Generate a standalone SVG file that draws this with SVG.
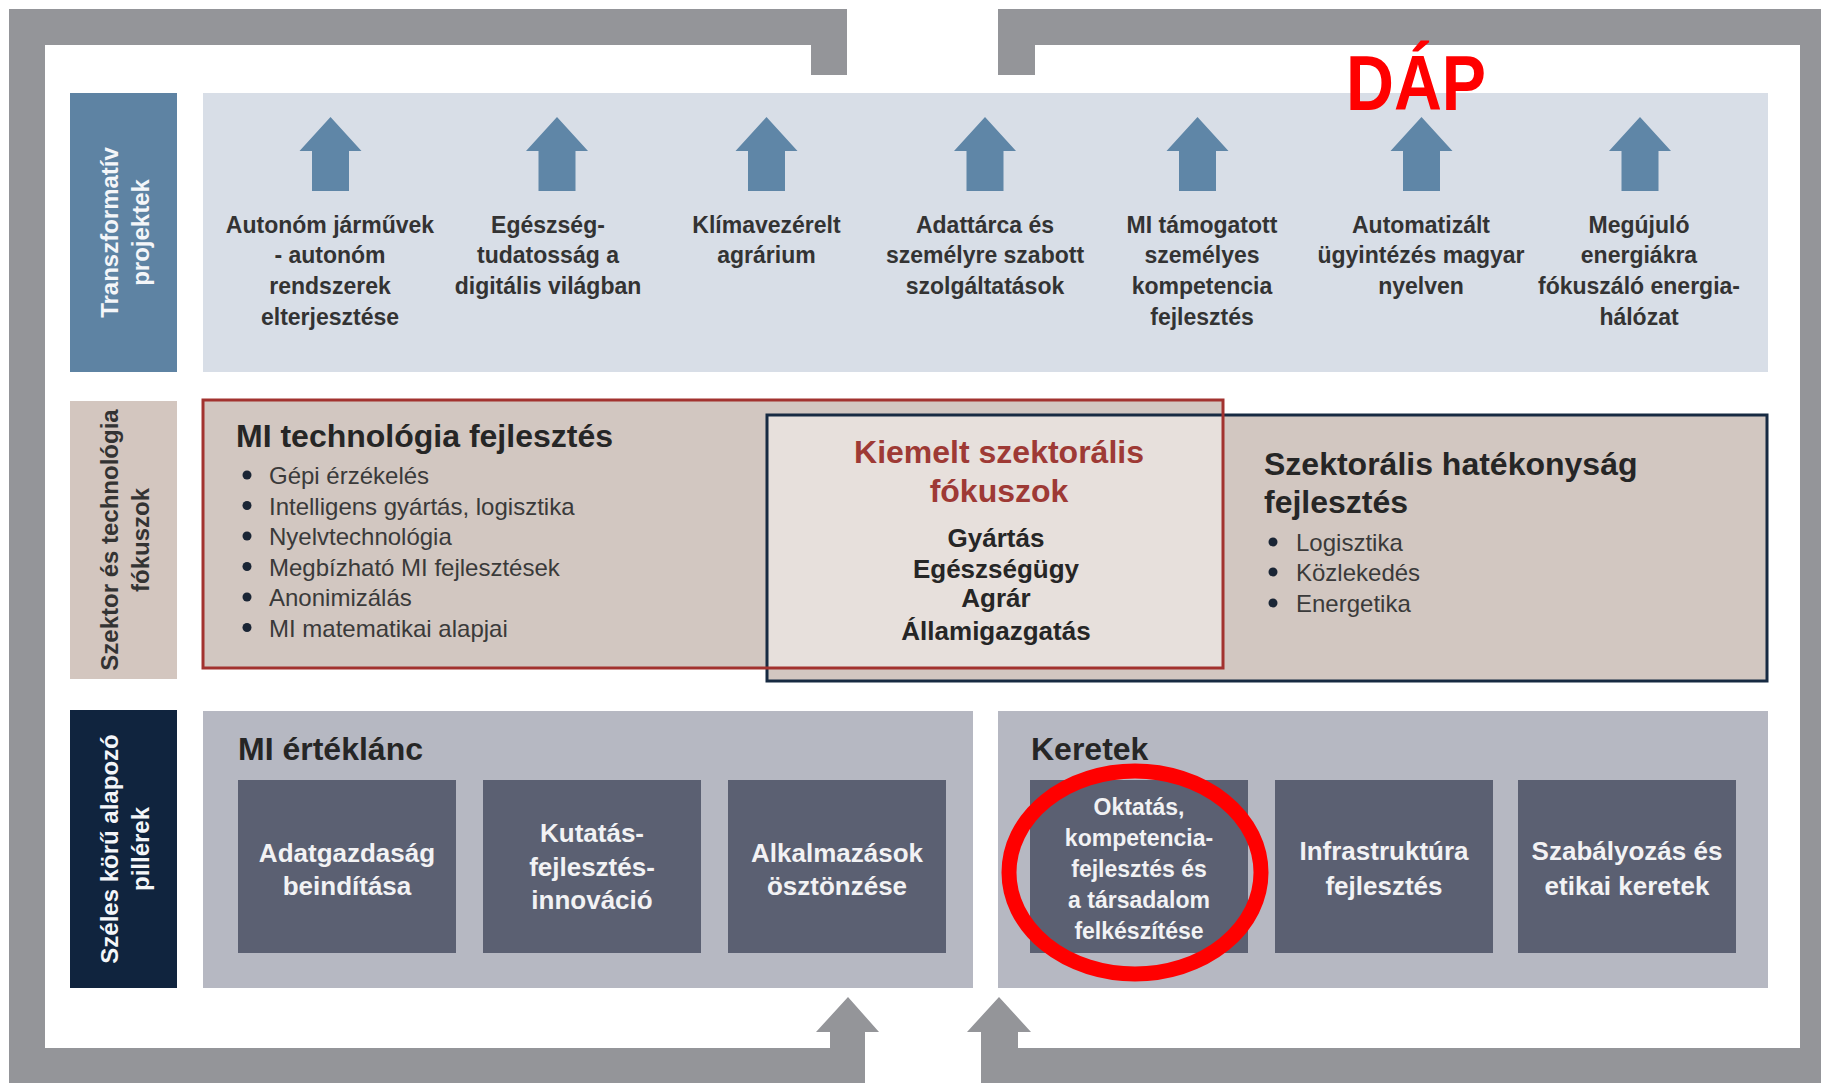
<svg xmlns="http://www.w3.org/2000/svg" width="1821" height="1083" viewBox="0 0 1821 1083">
<style>
text{font-family:"Liberation Sans",Arial,sans-serif}
.proj{font-size:23px;font-weight:bold;fill:#333;text-anchor:middle}
.lab{font-size:24px;font-weight:bold;text-anchor:middle}
.head{font-size:32px;font-weight:bold;fill:#262626}
.bul{font-size:24px;fill:#3a3a3a}
.box{font-size:26px;font-weight:bold;fill:#f2f2f4;text-anchor:middle}
.ctr{font-size:26px;font-weight:bold;fill:#262626;text-anchor:middle}
.dot{fill:#1a2535}
.inner{fill:#5b6072}
</style>
<defs>
<path id="uparrow" d="M0,0 L31,34 L18.5,34 L18.5,74 L-18.5,74 L-18.5,34 L-31,34 Z" fill="#5f86a7"/>
</defs>
<rect width="1821" height="1083" fill="#ffffff"/>

<g id="frame" fill="#949599">
<path d="M9,9 L847,9 L847,75 L811,75 L811,45 L45,45 L45,1048 L830,1048 L830,1032 L816,1032 L848,997 L879,1032 L865,1032 L865,1083 L9,1083 Z"/>
<path d="M998,9 L1821,9 L1821,1083 L981,1083 L981,1032 L967,1032 L999,997 L1031,1032 L1018,1032 L1018,1048 L1800,1048 L1800,45 L1035,45 L1035,75 L998,75 Z"/>
</g>

<g id="label-transzformativ">
<rect x="70" y="93" width="107" height="279" fill="#5e83a3"/>
<text class="lab" fill="#f4f6f9" transform="translate(123.5,232.5) rotate(-90)"><tspan x="0" y="-6">Transzformatív</tspan><tspan x="0" y="25">projektek</tspan></text>
</g>
<g id="label-szektor">
<rect x="70" y="401" width="107" height="278" fill="#d3c6bf"/>
<text class="lab" fill="#333" transform="translate(123.5,540) rotate(-90)"><tspan x="0" y="-6">Szektor és technológia</tspan><tspan x="0" y="25">fókuszok</tspan></text>
</g>
<g id="label-pillerek">
<rect x="70" y="710" width="107" height="278" fill="#10243e"/>
<text class="lab" fill="#f4f6f9" transform="translate(123.5,849) rotate(-90)"><tspan x="0" y="-6">Széles körű alapozó</tspan><tspan x="0" y="25">pillérek</tspan></text>
</g>

<g id="projects-panel">
<rect x="203" y="93" width="1565" height="279" fill="#d8dee7"/>
</g>

<g id="connectors">
<use href="#uparrow" x="330.5" y="117"/>
<use href="#uparrow" x="557" y="117"/>
<use href="#uparrow" x="766.5" y="117"/>
<use href="#uparrow" x="985" y="117"/>
<use href="#uparrow" x="1197.5" y="117"/>
<use href="#uparrow" x="1421.5" y="117"/>
<use href="#uparrow" x="1640" y="117"/>
</g>

<g id="proj-1"><text class="proj"><tspan x="330" y="232.5">Autonóm járművek</tspan><tspan x="330" y="263.3">- autonóm</tspan><tspan x="330" y="294.1">rendszerek</tspan><tspan x="330" y="324.9">elterjesztése</tspan></text></g>
<g id="proj-2"><text class="proj"><tspan x="548" y="232.5">Egészség-</tspan><tspan x="548" y="263.3">tudatosság a</tspan><tspan x="548" y="294.1">digitális világban</tspan></text></g>
<g id="proj-3"><text class="proj"><tspan x="766.5" y="232.5">Klímavezérelt</tspan><tspan x="766.5" y="263.3">agrárium</tspan></text></g>
<g id="proj-4"><text class="proj"><tspan x="985" y="232.5">Adattárca és</tspan><tspan x="985" y="263.3">személyre szabott</tspan><tspan x="985" y="294.1">szolgáltatások</tspan></text></g>
<g id="proj-5"><text class="proj"><tspan x="1202" y="232.5">MI támogatott</tspan><tspan x="1202" y="263.3">személyes</tspan><tspan x="1202" y="294.1">kompetencia</tspan><tspan x="1202" y="324.9">fejlesztés</tspan></text></g>
<g id="proj-6"><text class="proj"><tspan x="1421" y="232.5">Automatizált</tspan><tspan x="1421" y="263.3">ügyintézés magyar</tspan><tspan x="1421" y="294.1">nyelven</tspan></text></g>
<g id="proj-7"><text class="proj"><tspan x="1639" y="232.5">Megújuló</tspan><tspan x="1639" y="263.3">energiákra</tspan><tspan x="1639" y="294.1">fókuszáló energia-</tspan><tspan x="1639" y="324.9">hálózat</tspan></text></g>

<g id="focus-fills">
<rect x="203" y="400" width="1020" height="268" fill="#d2c7c1"/>
<rect x="767" y="415" width="1000" height="266" fill="#d2c7c1"/>
<rect x="767" y="415" width="456" height="253" fill="#e7e0dc"/>
</g>
<g id="szektoralis-hatekonysag">
<rect x="767" y="415" width="1000" height="266" fill="none" stroke="#172a42" stroke-width="3"/>
<text class="head"><tspan x="1264" y="475">Szektorális hatékonyság</tspan><tspan x="1264" y="513.3">fejlesztés</tspan></text>
<circle class="dot" cx="1273" cy="542" r="4.5"/><text class="bul" x="1296" y="551">Logisztika</text>
<circle class="dot" cx="1273" cy="572" r="4.5"/><text class="bul" x="1296" y="581">Közlekedés</text>
<circle class="dot" cx="1273" cy="603" r="4.5"/><text class="bul" x="1296" y="612.3">Energetika</text>
</g>
<g id="mi-technologia">
<rect x="203" y="400" width="1020" height="268" fill="none" stroke="#a2322f" stroke-width="3"/>
<text class="head" x="236" y="446.5">MI technológia fejlesztés</text>
<circle class="dot" cx="247" cy="475" r="4.5"/><text class="bul" x="269" y="484.3">Gépi érzékelés</text>
<circle class="dot" cx="247" cy="505.5" r="4.5"/><text class="bul" x="269" y="514.8">Intelligens gyártás, logisztika</text>
<circle class="dot" cx="247" cy="536" r="4.5"/><text class="bul" x="269" y="545.3">Nyelvtechnológia</text>
<circle class="dot" cx="247" cy="566.5" r="4.5"/><text class="bul" x="269" y="575.8">Megbízható MI fejlesztések</text>
<circle class="dot" cx="247" cy="597" r="4.5"/><text class="bul" x="269" y="606.3">Anonimizálás</text>
<circle class="dot" cx="247" cy="627.5" r="4.5"/><text class="bul" x="269" y="636.8">MI matematikai alapjai</text>
</g>
<g id="kiemelt-szektoralis">
<text class="head" text-anchor="middle" style="fill:#9e3a35"><tspan x="999" y="463.3">Kiemelt szektorális</tspan><tspan x="999" y="502.3">fókuszok</tspan></text>
<text class="ctr"><tspan x="996" y="546.7">Gyártás</tspan><tspan x="996" y="577.7">Egészségügy</tspan><tspan x="996" y="607">Agrár</tspan><tspan x="996" y="639.5">Államigazgatás</tspan></text>
</g>

<g id="mi-erteklanc">
<rect x="203" y="711" width="770" height="277" fill="#b6b8c2"/>
<text class="head" x="238" y="760">MI értéklánc</text>
</g>
<g id="adatgazdasag"><rect class="inner" x="238" y="780" width="218" height="173"/><text class="box"><tspan x="347" y="861.7">Adatgazdaság</tspan><tspan x="347" y="895">beindítása</tspan></text></g>
<g id="kutatas"><rect class="inner" x="483" y="780" width="218" height="173"/><text class="box"><tspan x="592" y="842">Kutatás-</tspan><tspan x="592" y="876">fejlesztés-</tspan><tspan x="592" y="909">innováció</tspan></text></g>
<g id="alkalmazasok"><rect class="inner" x="728" y="780" width="218" height="173"/><text class="box"><tspan x="837" y="861.7">Alkalmazások</tspan><tspan x="837" y="895">ösztönzése</tspan></text></g>

<g id="keretek">
<rect x="998" y="711" width="770" height="277" fill="#b6b8c2"/>
<text class="head" x="1031" y="760">Keretek</text>
</g>
<g id="oktatas"><rect class="inner" x="1030" y="780" width="218" height="173"/><text class="box" style="font-size:23px"><tspan x="1139" y="815">Oktatás,</tspan><tspan x="1139" y="846">kompetencia-</tspan><tspan x="1139" y="876.5">fejlesztés és</tspan><tspan x="1139" y="908">a társadalom</tspan><tspan x="1139" y="938.5">felkészítése</tspan></text></g>
<g id="infrastruktura"><rect class="inner" x="1275" y="780" width="218" height="173"/><text class="box"><tspan x="1384" y="860">Infrastruktúra</tspan><tspan x="1384" y="895">fejlesztés</tspan></text></g>
<g id="szabalyozas"><rect class="inner" x="1518" y="780" width="218" height="173"/><text class="box"><tspan x="1627" y="860">Szabályozás és</tspan><tspan x="1627" y="895">etikai keretek</tspan></text></g>

<g id="highlight">
<ellipse cx="1135" cy="872.5" rx="126" ry="101.5" fill="none" stroke="#ff0000" stroke-width="15"/>
</g>
<g id="dap">
<text x="1346" y="110" font-size="77" font-weight="bold" fill="#ff0000" textLength="140" lengthAdjust="spacingAndGlyphs">DÁP</text>
</g>
</svg>
